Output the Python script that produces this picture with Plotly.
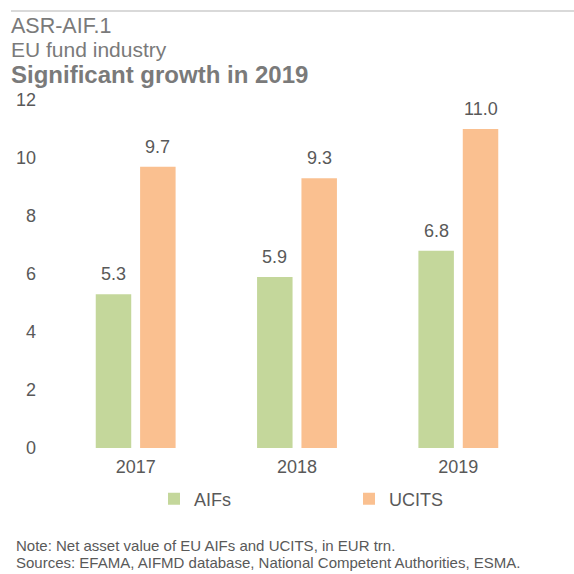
import plotly.graph_objects as go

years = ["2017", "2018", "2019"]
aifs = [5.3, 5.9, 6.8]
ucits = [9.7, 9.3, 11.0]
series_names = ["AIFs", "UCITS"]
y_ticks = [0, 2, 4, 6, 8, 10, 12]

GREEN = "#C4D79B"
ORANGE = "#FAC090"
TXT = "#595959"
TITLE = "#7A7A7A"
FONT = "Arial, Liberation Sans, sans-serif"

BARGAP = 0.45
BARGROUPGAP = 0.2

W = H = 574
L, R = 55, 35
top, bot = 100, 448


def px(xpix):
    return (xpix - L) / (W - L - R)


def py(ypix):
    return (bot - ypix) / (bot - top)


fig = go.Figure()
fig.add_trace(go.Bar(x=years, y=aifs, name=series_names[0], marker_color=GREEN,
                     marker_line_width=0, hoverinfo="skip", legend="legend"))
fig.add_trace(go.Bar(x=years, y=ucits, name=series_names[1], marker_color=ORANGE,
                     marker_line_width=0, hoverinfo="skip", legend="legend2"))

# value labels above bars
off = (1 - BARGAP) / 4
annotations = []
for i, (a, u) in enumerate(zip(aifs, ucits)):
    for dx, v in ((-off, a), (off, u)):
        annotations.append(dict(x=i + dx, y=v, xref="x", yref="y", text=f"{v:.1f}",
                                showarrow=False, yanchor="bottom", yshift=8,
                                font=dict(size=18, color=TXT, family=FONT)))

annotations += [
    dict(x=px(9), y=py(26), xref="paper", yref="paper", text="ASR-AIF.1", showarrow=False,
         xanchor="left", yanchor="middle", font=dict(size=21.5, color=TITLE, family=FONT)),
    dict(x=px(9), y=py(50), xref="paper", yref="paper", text="EU fund industry",
         showarrow=False, xanchor="left", yanchor="middle",
         font=dict(size=21, color=TITLE, family=FONT)),
    dict(x=px(9), y=py(74), xref="paper", yref="paper", text="<b>Significant growth in 2019</b>",
         showarrow=False, xanchor="left", yanchor="middle",
         font=dict(size=24, color=TITLE, family=FONT)),
    dict(x=px(14), y=py(545), xref="paper", yref="paper",
         text="Note: Net asset value of EU AIFs and UCITS, in EUR trn.", showarrow=False,
         xanchor="left", yanchor="middle", font=dict(size=15, color=TXT, family=FONT)),
    dict(x=px(14), y=py(562), xref="paper", yref="paper",
         text="Sources: EFAMA, AIFMD database, National Competent Authorities, ESMA.",
         showarrow=False, xanchor="left", yanchor="middle",
         font=dict(size=15, color=TXT, family=FONT)),
]

legend_common = dict(orientation="h", xanchor="left", yanchor="middle", y=py(499),
                     font=dict(size=18, color=TXT, family=FONT), itemwidth=30,
                     bgcolor="rgba(0,0,0,0)", borderwidth=0)

fig.update_layout(
    width=W, height=H,
    margin=dict(l=L, r=R, t=top, b=H - bot, pad=0, autoexpand=False),
    paper_bgcolor="white", plot_bgcolor="white",
    barmode="group", bargap=BARGAP, bargroupgap=BARGROUPGAP,
    font=dict(family=FONT, size=18, color=TXT),
    xaxis=dict(type="category", showline=False, ticks="", showgrid=False,
               tickfont=dict(size=18, color=TXT), ticklabelstandoff=6),
    yaxis=dict(range=[0, 12], tickvals=y_ticks, showgrid=False, zeroline=False,
               showline=False, ticks="", tickfont=dict(size=18, color=TXT),
               ticklabelstandoff=18),
    showlegend=True,
    legend=dict(x=px(154), **legend_common),
    legend2=dict(x=px(349), **legend_common),
    annotations=annotations,
    shapes=[dict(type="line", xref="paper", yref="paper",
                 x0=px(11), x1=px(574), y0=py(11), y1=py(11),
                 line=dict(color="#D9D9D9", width=2))],
)

fig.write_html("out.html", config={"displayModeBar": False},
               post_script="document.body.style.margin='0';")
